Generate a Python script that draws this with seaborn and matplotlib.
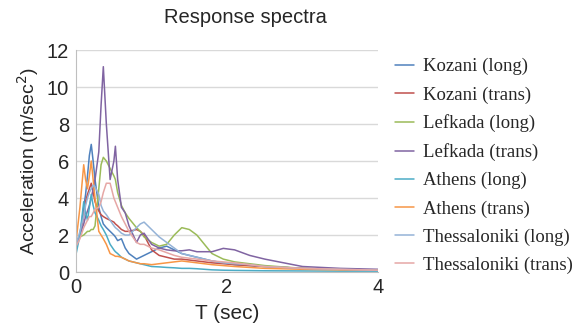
import matplotlib
matplotlib.use("Agg")
import matplotlib.pyplot as plt
import seaborn as sns
import pandas as pd

# Period grid (sec)
T = [0, 0.05, 0.1, 0.125, 0.15, 0.175, 0.2, 0.225, 0.25, 0.3, 0.33, 0.36, 0.4, 0.45,
     0.5, 0.52, 0.55, 0.6, 0.65, 0.7, 0.8, 0.85, 0.9, 1.0, 1.1, 1.2, 1.3, 1.4,
     1.5, 1.6, 1.8, 1.95, 2.1, 2.3, 2.5, 3.0, 3.5, 4.0]

kozani_long = [1.3, 2.0, 3.5, 4.2, 5.2, 6.3, 6.9, 6.0, 5.0, 3.5, 3.0, 2.6, 2.4, 2.2,
               2.0, 1.9, 1.7, 1.8, 1.3, 1.0, 0.7, 0.8, 0.9, 1.1, 1.3, 1.4, 1.2, 1.0,
               0.9, 0.8, 0.6, 0.5, 0.4, 0.35, 0.3, 0.2, 0.15, 0.1]
kozani_trans = [1.5, 2.0, 3.0, 3.8, 4.2, 4.5, 4.8, 4.3, 3.8, 3.3, 3.1, 3.0, 2.9, 2.8,
                2.7, 2.6, 2.5, 2.3, 2.2, 2.2, 2.3, 2.2, 2.0, 1.2, 0.9, 0.8, 0.7, 0.7,
                0.65, 0.6, 0.5, 0.45, 0.4, 0.35, 0.3, 0.2, 0.15, 0.1]
lefkada_long = [1.7, 1.9, 2.0, 2.1, 2.2, 2.2, 2.3, 2.3, 2.5, 4.5, 5.8, 6.2, 6.0, 5.6,
                5.2, 5.0, 4.3, 3.6, 3.2, 2.9, 2.4, 2.2, 1.9, 1.6, 1.4, 1.5, 2.0, 2.4,
                2.3, 2.0, 1.0, 0.7, 0.55, 0.45, 0.35, 0.2, 0.15, 0.1]
lefkada_trans = [1.5, 2.0, 2.6, 3.0, 3.3, 3.6, 4.0, 4.5, 5.0, 6.5, 9.0, 11.1, 8.0, 5.0,
                 6.0, 6.8, 5.0, 3.5, 3.2, 2.5, 1.6, 2.0, 2.1, 1.5, 1.3, 1.2, 1.15, 1.15,
                 1.2, 1.1, 1.1, 1.28, 1.2, 0.9, 0.7, 0.3, 0.2, 0.15]
athens_long = [1.0, 2.0, 3.8, 3.2, 2.8, 3.5, 4.2, 3.6, 3.2, 2.8, 2.5, 2.3, 2.0, 1.5,
               1.2, 1.1, 1.0, 0.8, 0.7, 0.6, 0.5, 0.45, 0.4, 0.3, 0.28, 0.25, 0.23, 0.2,
               0.2, 0.18, 0.12, 0.1, 0.09, 0.08, 0.07, 0.06, 0.05, 0.05]
athens_trans = [1.7, 3.5, 5.8, 5.0, 4.5, 5.2, 6.0, 5.0, 4.0, 2.2, 2.0, 1.8, 1.5, 1.0,
                0.9, 0.85, 0.85, 0.8, 0.7, 0.6, 0.5, 0.45, 0.45, 0.4, 0.45, 0.5, 0.55, 0.6,
                0.55, 0.5, 0.4, 0.35, 0.3, 0.25, 0.2, 0.15, 0.12, 0.1]
thessaloniki_long = [1.5, 2.2, 3.0, 3.6, 4.0, 4.3, 4.5, 4.7, 4.6, 4.2, 3.6, 3.3, 3.1, 2.8,
                     2.5, 2.4, 2.3, 2.1, 2.0, 2.0, 2.4, 2.6, 2.7, 2.3, 1.9, 1.6, 1.3, 1.0,
                     0.9, 0.8, 0.6, 0.5, 0.45, 0.4, 0.3, 0.2, 0.15, 0.1]
thessaloniki_trans = [1.4, 1.8, 2.4, 2.6, 2.8, 3.0, 3.0, 3.2, 3.4, 3.5, 3.8, 4.3, 4.8, 4.8,
                      4.0, 3.8, 3.5, 3.0, 2.6, 2.2, 1.6, 1.5, 1.5, 1.3, 1.2, 1.05, 0.9, 0.8,
                      0.75, 0.7, 0.6, 0.55, 0.5, 0.4, 0.3, 0.2, 0.15, 0.1]

series = {
    "Kozani (long)": kozani_long,
    "Kozani (trans)": kozani_trans,
    "Lefkada (long)": lefkada_long,
    "Lefkada (trans)": lefkada_trans,
    "Athens (long)": athens_long,
    "Athens (trans)": athens_trans,
    "Thessaloniki (long)": thessaloniki_long,
    "Thessaloniki (trans)": thessaloniki_trans,
}
colors = ["#4F81BD", "#C0504D", "#9BBB59", "#8064A2",
          "#4BACC6", "#F79646", "#95B3D7", "#E6A7A5"]

rows = []
for name, vals in series.items():
    for t, a in zip(T, vals):
        rows.append({"T": t, "A": a, "Record": name})
df = pd.DataFrame(rows)

sns.set_style("white")
plt.rcParams["font.family"] = ["Liberation Sans", "DejaVu Sans"]

fig = plt.figure(figsize=(5.77, 3.27), dpi=100)
ax = fig.add_axes([0.132, 0.168, 0.523, 0.679])

sns.lineplot(data=df, x="T", y="A", hue="Record", palette=colors,
             linewidth=1.1, ax=ax, legend=True)

ax.set_xlim(0, 4)
ax.set_ylim(0, 12)
ax.set_xticks([0, 2, 4])
ax.set_yticks([0, 2, 4, 6, 8, 10, 12])
ax.yaxis.grid(True, color="#D9D9D9", linewidth=1)
ax.set_axisbelow(True)
for side in ["top", "right"]:
    ax.spines[side].set_visible(False)
for side in ["left", "bottom"]:
    ax.spines[side].set_color("#BFBFBF")
ax.tick_params(axis="x", labelsize=14.5, length=0, pad=4)
ax.tick_params(axis="y", labelsize=14.5, length=0, pad=5)
ax.set_xlabel("T (sec)", fontsize=15, labelpad=5)
ax.set_ylabel("Acceleration (m/sec$^2$)", fontsize=14, labelpad=4)
fig.text(0.425, 0.945, "Response spectra", fontsize=14.5, ha="center", va="center")

handles, labels = ax.get_legend_handles_labels()
ax.legend(handles, labels, loc="upper left", bbox_to_anchor=(1.0, 1.04),
          frameon=False, handlelength=1.0, handletextpad=0.5,
          labelspacing=0.58, prop={"family": "Liberation Serif", "size": 13.5})

fig.savefig("out.png", dpi=100)
